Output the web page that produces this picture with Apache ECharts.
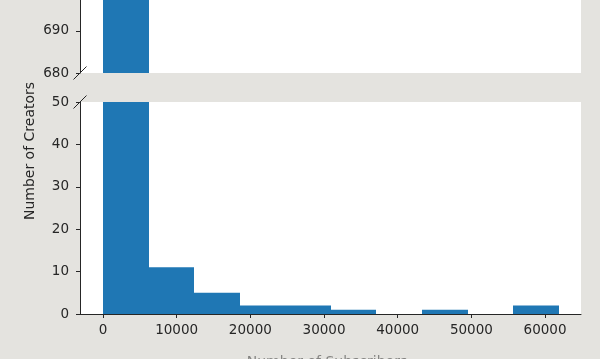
<!DOCTYPE html>
<html>
<head>
<meta charset="utf-8">
<script src="https://cdn.jsdelivr.net/npm/echarts@6/dist/echarts.min.js"></script>
<style>
html,body{margin:0;padding:0;background:#e4e3df;}
#chart{width:600px;height:359px;}
</style>
</head>
<body>
<div id="chart"></div>
<script>
// ---- data ----
const binEdges = [0, 6186, 12372, 18558, 24744, 30930, 37116, 43302, 49488, 55674, 61860];
const counts = [700, 11, 5, 2, 2, 1, 0, 1, 0, 2];
const xTicks = [0, 10000, 20000, 30000, 40000, 50000, 60000];
const yTicksTop = [680, 690];
const yTicksBottom = [0, 10, 20, 30, 40, 50];
const yLabel = 'Number of Creators';
const xLabel = 'Number of Subscribers';

// ---- layout/style ----
const FONT = 'DejaVu Sans';
const INK = '#262626';
const BAR = '#1f77b4';
const plotLeft = 80, plotRight = 581;
const topGrid = {top: 0, bottom: 73};
const botGrid = {top: 102, bottom: 314};
const xMin = -3120, xMax = 64880;

const histData = counts.map((c, i) => [binEdges[i], binEdges[i + 1], c]);

function renderBar(params, api) {
  const p0 = api.coord([api.value(0), 0]);
  const p1 = api.coord([api.value(1), api.value(2)]);
  const x0 = Math.round(p0[0]), x1 = Math.round(p1[0]);
  const rect = echarts.graphic.clipRectByRect(
    {x: x0, y: p1[1], width: x1 - x0, height: p0[1] - p1[1]},
    {x: params.coordSys.x, y: params.coordSys.y, width: params.coordSys.width, height: params.coordSys.height}
  );
  if (!rect || rect.height <= 0 || rect.width <= 0) return null;
  return {type: 'rect', shape: rect, style: {fill: BAR}};
}

const axisLabelBase = {color: INK, fontFamily: FONT, fontSize: 13.5, formatter: v => String(v)};
const lineStyle = {color: INK, width: 1};

const chart = echarts.init(document.getElementById('chart'), null, {renderer: 'canvas'});
chart.setOption({
  backgroundColor: '#e4e3df',
  animation: false,
  grid: [
    {left: plotLeft, width: plotRight - plotLeft, top: topGrid.top, height: topGrid.bottom - topGrid.top, show: true, backgroundColor: '#ffffff', borderWidth: 0},
    {left: plotLeft, width: plotRight - plotLeft, top: botGrid.top, height: botGrid.bottom - botGrid.top, show: true, backgroundColor: '#ffffff', borderWidth: 0}
  ],
  xAxis: [
    {type: 'value', gridIndex: 0, min: xMin, max: xMax, show: false},
    {type: 'value', gridIndex: 1, min: xMin, max: xMax,
      axisLine: {show: true, onZero: false, lineStyle: lineStyle},
      axisTick: {show: true, length: 4, lineStyle: lineStyle, customValues: xTicks},
      axisLabel: Object.assign({margin: 9, customValues: xTicks}, axisLabelBase),
      splitLine: {show: false}}
  ],
  yAxis: [
    {type: 'value', gridIndex: 0, min: 680, max: 697.3,
      axisLine: {show: true, onZero: false, lineStyle: lineStyle},
      axisTick: {show: true, length: 4, lineStyle: lineStyle, customValues: yTicksTop},
      axisLabel: Object.assign({margin: 11, customValues: yTicksTop}, axisLabelBase),
      splitLine: {show: false}},
    {type: 'value', gridIndex: 1, min: 0, max: 50,
      axisLine: {show: true, onZero: false, lineStyle: lineStyle},
      axisTick: {show: true, length: 4, lineStyle: lineStyle, customValues: yTicksBottom},
      axisLabel: Object.assign({margin: 11, customValues: yTicksBottom}, axisLabelBase),
      splitLine: {show: false}}
  ],
  series: [
    {type: 'custom', xAxisIndex: 0, yAxisIndex: 0, data: histData, renderItem: renderBar, clip: true},
    {type: 'custom', xAxisIndex: 1, yAxisIndex: 1, data: histData, renderItem: renderBar, clip: true}
  ],
  graphic: [
    {type: 'line', shape: {x1: plotLeft - 6.5, y1: topGrid.bottom + 6.5, x2: plotLeft + 6.5, y2: topGrid.bottom - 6.5}, style: {stroke: INK, lineWidth: 1}, z: 100},
    {type: 'line', shape: {x1: plotLeft - 6.5, y1: botGrid.top + 6.5, x2: plotLeft + 6.5, y2: botGrid.top - 6.5}, style: {stroke: INK, lineWidth: 1}, z: 100},
    {type: 'text', x: 30, y: 151, rotation: Math.PI / 2,
      style: {text: yLabel, fill: INK, font: '14px "DejaVu Sans"', align: 'center', verticalAlign: 'middle'}},
    {type: 'text', x: 327, y: 355,
      style: {text: xLabel, fill: INK, font: '14px "DejaVu Sans"', align: 'center', verticalAlign: 'top', opacity: 0.5}}
  ]
});
</script>
</body>
</html>
